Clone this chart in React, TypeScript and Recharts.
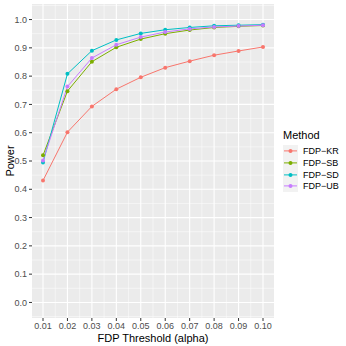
import React from "react";
import {
  LineChart,
  Line,
  XAxis,
  YAxis,
  CartesianGrid,
} from "recharts";

const alphas = [0.01, 0.02, 0.03, 0.04, 0.05, 0.06, 0.07, 0.08, 0.09, 0.1];
const kr = [0.431, 0.602, 0.693, 0.754, 0.796, 0.83, 0.853, 0.874, 0.889, 0.903];
const sb = [0.52, 0.747, 0.851, 0.902, 0.931, 0.95, 0.963, 0.972, 0.976, 0.979];
const sd = [0.495, 0.808, 0.89, 0.928, 0.951, 0.964, 0.972, 0.978, 0.98, 0.982];
const ub = [0.502, 0.763, 0.864, 0.911, 0.938, 0.956, 0.967, 0.974, 0.977, 0.98];
const yTicks = [0, 0.1, 0.2, 0.3, 0.4, 0.5, 0.6, 0.7, 0.8, 0.9, 1.0];
const xMinor = [0.005, 0.015, 0.025, 0.035, 0.045, 0.055, 0.065, 0.075, 0.085, 0.095, 0.105];
const yMinor = [-0.05, 0.05, 0.15, 0.25, 0.35, 0.45, 0.55, 0.65, 0.75, 0.85, 0.95, 1.05];

const methods = [
  { key: "kr", name: "FDP\u2212KR", color: "#F8766D" },
  { key: "sb", name: "FDP\u2212SB", color: "#7CAE00" },
  { key: "sd", name: "FDP\u2212SD", color: "#00BFC4" },
  { key: "ub", name: "FDP\u2212UB", color: "#C77CFF" },
];

const data = alphas.map((a, i) => ({
  alpha: a,
  kr: kr[i],
  sb: sb[i],
  sd: sd[i],
  ub: ub[i],
}));

const font = "'Liberation Sans', Arial, sans-serif";

const LegendBox = () => (
  <div style={{ position: "absolute", left: 283, top: 128.5, fontFamily: font, color: "#000" }}>
    <div style={{ fontSize: 11, lineHeight: "12px", marginBottom: 4.6 }}>Method</div>
    {methods.map((m) => (
      <div key={m.key} style={{ display: "flex", alignItems: "center", height: 11.8 }}>
        <svg width={15} height={11.8} style={{ background: "#F2F2F2", display: "block" }}>
          <line x1={1} x2={14} y1={5.9} y2={5.9} stroke={m.color} strokeWidth={1} />
          <circle cx={7.5} cy={5.9} r={2} fill={m.color} />
        </svg>
        <span style={{ fontSize: 9, marginLeft: 5 }}>{m.name}</span>
      </div>
    ))}
  </div>
);

export default function App() {
  return (
    <div style={{ position: "absolute", left: 0, top: 0, width: 346, height: 346, background: "#fff" }}>
      <LineChart
        width={346}
        height={346}
        data={data}
        margin={{ top: 4, right: 72, bottom: 0, left: 0 }}
      >
        <CartesianGrid
          fill="#EBEBEB"
          stroke="#FFFFFF"
          strokeWidth={0.5}
          verticalValues={xMinor}
          horizontalValues={yMinor}
        />
        <CartesianGrid
          fill="none"
          stroke="#FFFFFF"
          strokeWidth={1.1}
          verticalValues={alphas}
          horizontalValues={yTicks}
        />
        <XAxis
          dataKey="alpha"
          type="number"
          domain={[0.0055, 0.1045]}
          ticks={alphas}
          interval={0}
          allowDataOverflow
          tickFormatter={(v: number) => v.toFixed(2)}
          axisLine={false}
          tickLine={{ stroke: "#333333" }}
          tickSize={3}
          height={28}
          tick={{ fill: "#4D4D4D", fontSize: 9, fontFamily: font }}
          label={{
            value: "FDP Threshold (alpha)",
            position: "insideBottom",
            offset: 4,
            style: { fill: "#000", fontSize: 11, fontFamily: font },
          }}
        />
        <YAxis
          type="number"
          domain={[-0.055, 1.055]}
          ticks={yTicks}
          interval={0}
          allowDataOverflow
          tickFormatter={(v: number) => v.toFixed(1)}
          axisLine={false}
          tickLine={{ stroke: "#333333" }}
          tickSize={3}
          width={32}
          tick={{ fill: "#4D4D4D", fontSize: 9, fontFamily: font }}
          label={{
            value: "Power",
            angle: -90,
            position: "insideLeft",
            offset: 10,
            style: { fill: "#000", fontSize: 11, fontFamily: font, textAnchor: "middle" },
          }}
        />
        {methods.map((m) => (
          <Line
            key={m.key}
            dataKey={m.key}
            name={m.name}
            stroke={m.color}
            strokeWidth={1}
            dot={{ r: 2, fill: m.color, stroke: m.color, strokeWidth: 0 }}
            isAnimationActive={false}
          />
        ))}
      </LineChart>
      <LegendBox />
    </div>
  );
}
